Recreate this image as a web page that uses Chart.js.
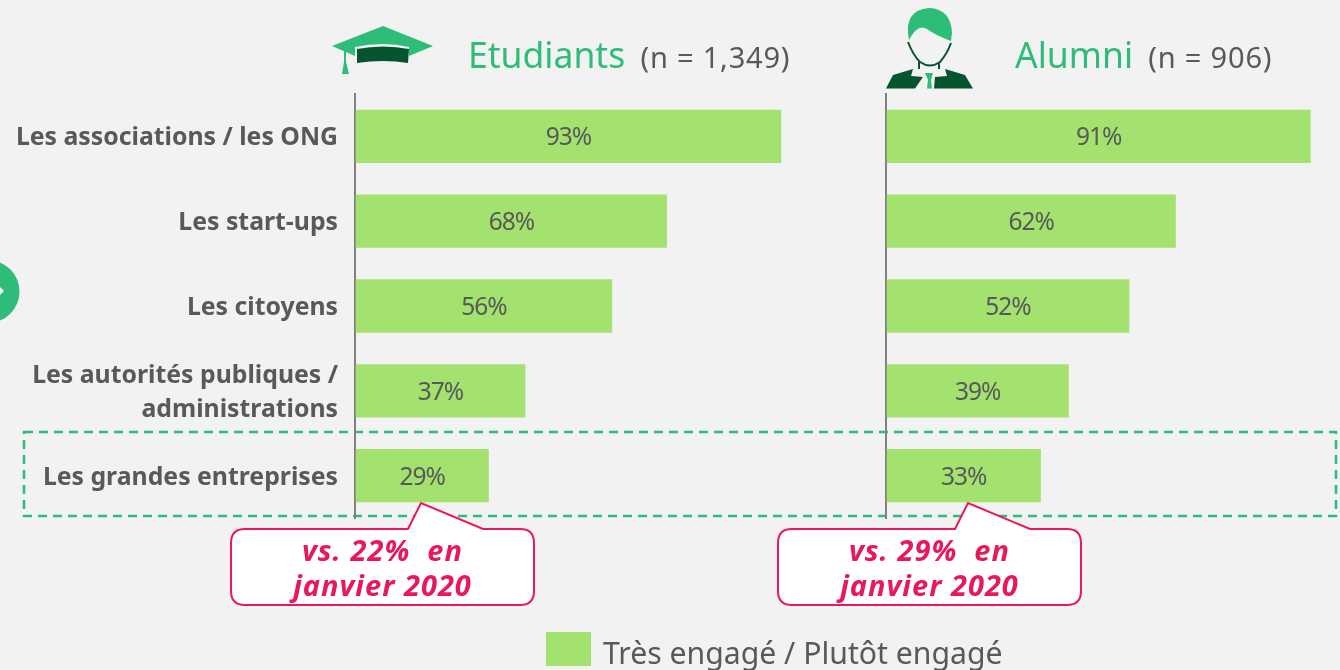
<!DOCTYPE html>
<html lang="fr">
<head>
<meta charset="utf-8">
<script src="https://cdn.jsdelivr.net/npm/chart.js@4/dist/chart.umd.min.js"></script>
<style>
  html, body { margin: 0; padding: 0; background: #f2f2f2; }
  body { position: relative; width: 1340px; height: 670px; overflow: hidden; font-family: "Noto Sans", sans-serif; color: #595959; }
  canvas, svg, .txt { position: absolute; }
  #chartEtudiants { left: 0; top: 0; }
  #chartAlumni { left: 860px; top: 0; }
  #shapes { left: 0; top: 0; }
  .title { white-space: nowrap; color: #2dbd78; font-size: 35.5px; line-height: 44px; top: 32px; }
  .title span { color: #595959; font-size: 29px; margin-left: 6px; letter-spacing: 0.8px; }
  .note { width: 303px; text-align: center; top: 532px; color: #e8195a; font-size: 29px; line-height: 35px; font-weight: 700; font-style: italic; letter-spacing: 1px; }
  #legend { left: 546px; top: 632px; display: flex; align-items: flex-start; white-space: nowrap; font-size: 30.2px; line-height: 42px; }
  #legend i { width: 45px; height: 34px; margin-right: 12px; }
</style>
</head>
<body>
<svg id="shapes" width="1340" height="670" viewBox="0 0 1340 670">
  <circle cx="-12" cy="291.5" r="31.5" fill="#2dbd78"/>
  <path d="M-2 287 L0 287 L4 291 L0 295 L-2 295 Z" fill="#fff"/>
  <rect x="24" y="432" width="1312" height="84" fill="none" stroke="#2dbd78" stroke-width="2.5" stroke-dasharray="9 6"/>
  <!-- mortarboard -->
  <path d="M383 26 L433 46 L409 56 L409 47 Q383 41 355 47 L355 56 L332 46 Z" fill="#2dbd78"/>
  <path d="M357 49 Q383 44 409 49 L408 63 Q383 59 357 63 Z" fill="#04552e"/>
  <path d="M345 51 L345 65" stroke="#2dbd78" stroke-width="2"/>
  <path d="M342 74 L349 74 L346 62 L344 62 Z" fill="#2dbd78"/>
  <!-- person -->
  <path d="M909 40 Q903 10 929 8 Q951 9 952 33 L951 41 Q935 35 927 29 Q918 23 909 40 Z" fill="#2dbd78"/>
  <path d="M908 42 Q913 55 920 62 Q930 69 940 62 Q947 54 951 43" fill="none" stroke="#04552e" stroke-width="2"/>
  <path d="M919 62 L919 69 M939 62 L939 69" stroke="#04552e" stroke-width="2"/>
  <path d="M886 88.5 L893 75 L913 69 L911 76 L923 77 L915 88.5 Z M973 88.5 L965 75 L945 69 L947 76 L935 77 L934 88.5 Z" fill="#04552e"/>
  <path d="M925 73 L933 73 L931 80 L932 88.5 L927 88.5 L928 80 Z" fill="#2dbd78"/>
</svg>
<canvas id="chartEtudiants" width="860" height="670"></canvas>
<canvas id="chartAlumni" width="480" height="670"></canvas>
<svg id="callouts" width="1340" height="670" viewBox="0 0 1340 670" style="left:0;top:0">
  <path d="M245 529 H408 L421 503 L483 529 H520 Q534 529 534 543 V591 Q534 605 520 605 H245 Q231 605 231 591 V543 Q231 529 245 529 Z" fill="#fff" stroke="#e8195a" stroke-width="2"/>
  <path d="M792 529 H955 L968 503 L1030 529 H1067 Q1081 529 1081 543 V591 Q1081 605 1067 605 H792 Q778 605 778 591 V543 Q778 529 792 529 Z" fill="#fff" stroke="#e8195a" stroke-width="2"/>
</svg>
<div class="txt title" style="left:468px">Etudiants <span>(n = 1,349)</span></div>
<div class="txt title" style="left:1015px">Alumni <span>(n = 906)</span></div>
<div class="txt note" style="left:231px">vs. 22%&nbsp; en<br>janvier 2020</div>
<div class="txt note" style="left:778px">vs. 29%&nbsp; en<br>janvier 2020</div>
<div class="txt" id="legend"></div>
<script>
const categories = [
  "Les associations / les ONG",
  "Les start-ups",
  "Les citoyens",
  ["Les autorités publiques /", "administrations"],
  "Les grandes entreprises",
];
const etudiantsValues = [93, 68, 56, 37, 29];
const alumniValues = [91, 62, 52, 39, 33];
const seriesLabel = "Très engagé / Plutôt engagé";
const barColor = "#a3e26f";
const textColor = "#595959";
const fontName = "Noto Sans";

// prints the % in the middle of each bar
const barValueLabels = {
  id: "barValueLabels",
  afterDatasetsDraw(chart) {
    const { ctx } = chart;
    const meta = chart.getDatasetMeta(0);
    ctx.save();
    ctx.font = `24.5px "${fontName}"`;
    ctx.letterSpacing = "-1px";
    ctx.fillStyle = textColor;
    ctx.textAlign = "center";
    ctx.textBaseline = "middle";
    meta.data.forEach((bar, i) => {
      ctx.fillText(chart.data.datasets[0].data[i] + "%", (bar.base + bar.x) / 2, bar.y + 2);
    });
    ctx.restore();
  },
};

function makeChart(id, values, axisWidth, rightPad, showLabels) {
  return new Chart(document.getElementById(id), {
    type: "bar",
    data: {
      labels: categories,
      datasets: [{ label: seriesLabel, data: values, backgroundColor: barColor, barThickness: 52.6 }],
    },
    options: {
      indexAxis: "y",
      responsive: false,
      animation: false,
      layout: { padding: { top: 94, bottom: 152, right: rightPad, left: 0 } },
      plugins: { legend: { display: false }, tooltip: { enabled: false } },
      scales: {
        // min just under 0 so the bars start right of the axis line
        x: { min: -0.22, max: 95, display: false, grid: { display: false } },
        y: {
          grid: { display: false, drawTicks: false },
          border: { color: "#808080", width: 2 },
          afterFit(scale) { scale.width = axisWidth; },
          ticks: {
            display: showLabels,
            padding: 17,
            labelOffset: 2,
            color: textColor,
            font: { family: fontName, size: 24.8, weight: "bold", lineHeight: 1.4 },
          },
        },
      },
    },
    plugins: [barValueLabels],
  });
}

const etudiantsChart = makeChart("chartEtudiants", etudiantsValues, 355, 70, true);
const alumniChart = makeChart("chartAlumni", alumniValues, 26, 11, false);

// html legend, it is centred under both panels
const dataset = etudiantsChart.data.datasets[0];
const legendEl = document.getElementById("legend");
const swatch = document.createElement("i");
swatch.style.background = dataset.backgroundColor;
legendEl.append(swatch, dataset.label);
</script>
</body>
</html>
